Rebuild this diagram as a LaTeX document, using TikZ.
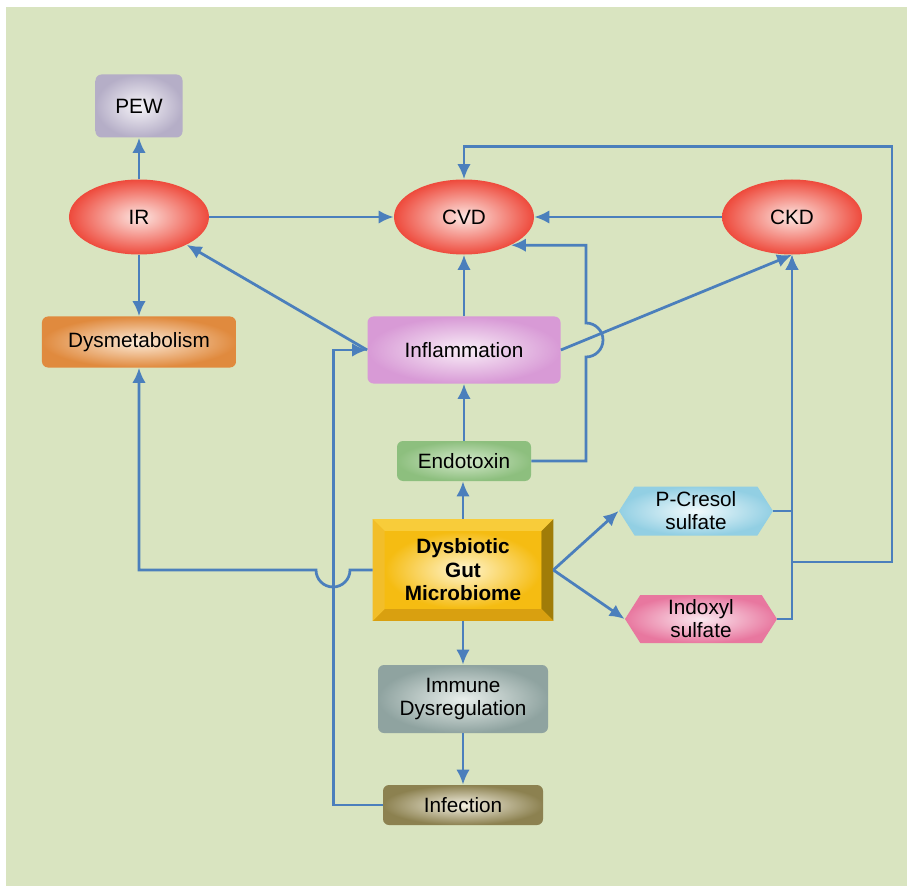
\documentclass[tikz,border=0pt]{standalone}
\usepackage{fontspec}
\setmainfont{Liberation Sans}
\usetikzlibrary{shapes,arrows.meta,positioning,calc}

\definecolor{bggreen}{HTML}{D9E4C0}
\definecolor{linkblue}{HTML}{4B7FBC}
\definecolor{redout}{HTML}{EE4A3C}
\definecolor{redin}{HTML}{FCE6E2}
\definecolor{pewout}{HTML}{B5AEC7}
\definecolor{pewin}{HTML}{F6F4F8}
\definecolor{dysout}{HTML}{E08A3E}
\definecolor{dysin}{HTML}{FCEBD9}
\definecolor{inflout}{HTML}{D89AD6}
\definecolor{inflin}{HTML}{F9EEF7}
\definecolor{endoout}{HTML}{8DBF7E}
\definecolor{endoin}{HTML}{D4E8CB}
\definecolor{pcrout}{HTML}{92CFE3}
\definecolor{pcrin}{HTML}{F2FAFC}
\definecolor{indout}{HTML}{E8779F}
\definecolor{indin}{HTML}{FBE9F0}
\definecolor{immout}{HTML}{8FA3A0}
\definecolor{immin}{HTML}{E9EFEC}
\definecolor{infout}{HTML}{8C8150}
\definecolor{infin}{HTML}{F3F0E2}
\definecolor{goldout}{HTML}{F5BC12}
\definecolor{goldin}{HTML}{FFF5CF}
\definecolor{goldtop}{HTML}{F8CC3A}
\definecolor{goldleft}{HTML}{F2BE2A}
\definecolor{goldright}{HTML}{A07C08}
\definecolor{goldbottom}{HTML}{D9A010}

\begin{document}
\begin{tikzpicture}[x=0.2mm, y=-0.2mm,
        line/.style={draw=linkblue, line width=0.55mm, -{Latex[length=3mm, width=2.7mm]}},
        box/.style={rectangle, rounded corners=1.2mm, inner sep=0pt, align=center, font=\fontsize{11.8}{13}\selectfont},
        disease/.style={ellipse, minimum width=28mm, minimum height=15mm, inner sep=0pt, inner color=redin, outer color=redout, font=\fontsize{11.8}{13}\selectfont},
        toxin/.style={signal, signal to=east and west, signal pointer angle=115, inner sep=0pt, align=center, font=\fontsize{11.8}{13}\selectfont}
    ]
        % Background
        \useasboundingbox (0,0) rectangle (907,886);
        \fill[white] (0,0) rectangle (907,886);
        \fill[bggreen] (6,7) rectangle (907,886);
        % Diseases
        \node[disease] (ir) at (139,217) {IR};
        \node[disease] (cvd) at (464,217) {CVD};
        \node[disease] (ckd) at (792,217) {CKD};
        % Boxes
        \node[box, minimum width=17.4mm, minimum height=12.6mm, inner color=pewin, outer color=pewout] (pew) at (139,106) {PEW};
        \node[box, minimum width=38.8mm, minimum height=10.2mm, inner color=dysin, outer color=dysout] (dysmet) at (139,342) {Dysmetabolism};
        \node[box, minimum width=38.6mm, minimum height=13.4mm, inner color=inflin, outer color=inflout] (inflam) at (464,350) {Inflammation};
        \node[box, minimum width=26.8mm, minimum height=8mm, inner color=endoin, outer color=endoout] (endo) at (464,461) {Endotoxin};
        \node[box, minimum width=34mm, minimum height=13.6mm, inner color=immin, outer color=immout] (immune) at (463,699) {Immune\\Dysregulation};
        \node[box, minimum width=32mm, minimum height=8mm, inner color=infin, outer color=infout] (infect) at (463,805) {Infection};
        % Toxins
        \node[toxin, minimum width=30.8mm, minimum height=9.8mm, inner color=pcrin, outer color=pcrout] (pcresol) at (696,511) {P-Cresol\\sulfate};
        \node[toxin, minimum width=30.4mm, minimum height=9.6mm, inner color=indin, outer color=indout] (indoxyl) at (701,619) {Indoxyl\\sulfate};
        % Gut microbiome (bevelled block)
        \node[rectangle, minimum width=36mm, minimum height=20.2mm, inner sep=0pt, fill=goldout] (gut) at (463,570) {};
        \fill[goldtop] (gut.north west) -- (gut.north east) -- ++(-12,12) -- ($(gut.north west)+(12,12)$) -- cycle;
        \fill[goldright] (gut.north east) -- (gut.south east) -- ++(-12,-12) -- ($(gut.north east)+(-12,12)$) -- cycle;
        \fill[goldbottom] (gut.south east) -- (gut.south west) -- ++(12,-12) -- ($(gut.south east)+(-12,-12)$) -- cycle;
        \fill[goldleft] (gut.south west) -- (gut.north west) -- ++(12,12) -- ($(gut.south west)+(12,-12)$) -- cycle;
        \node[rectangle, minimum width=31.2mm, minimum height=15.4mm, inner sep=0pt, inner color=goldin, outer color=goldout, align=center, font=\fontsize{11.8}{13.4}\selectfont\bfseries] (gut_label) at (gut) {Dysbiotic\\Gut\\Microbiome};
        % Connections
        \path[line] (ir.north) -- (pew.south);
        \path[line] (ir.south) -- (dysmet.north);
        \path[line] (ir.east) -- (cvd.west);
        \path[line] (ckd.west) -- (cvd.east);
        \path[line] (inflam.north) -- (cvd.south);
        \path[line] (inflam.west) -- (ir);
        \path[line] (inflam.east) -- (ckd.south);
        \path[line] (endo.east) -| (586,357) arc[start angle=-90, end angle=90, radius=3.4mm] |- (cvd.-31);
        \path[line] (endo.north) -- (inflam.south);
        \path[line] (gut.north) -- (gut.north |- endo.south);
        \path[line] (gut.south) -- (gut.south |- immune.north);
        \path[line] (immune.south) -- (infect.north);
        \path[line] (infect.west) -- ++(-49,0) |- (inflam.west);
        \path[line] (gut.west) -- (350,570) arc[start angle=0, end angle=-180, radius=3.4mm] -| (dysmet.south);
        \path[line] (gut.east) -- (pcresol.west);
        \path[line] (gut.east) -- (indoxyl.west);
        \path[line] (pcresol.east) -| (ckd.south);
        \path[line] (indoxyl.east) -| (ckd.south);
        \coordinate (join) at (792,562);
        \path[line] (join) -- ++(100,0) |- ([yshift=6.5mm]cvd.north) -- (cvd.north);
    \end{tikzpicture}
\end{document}
